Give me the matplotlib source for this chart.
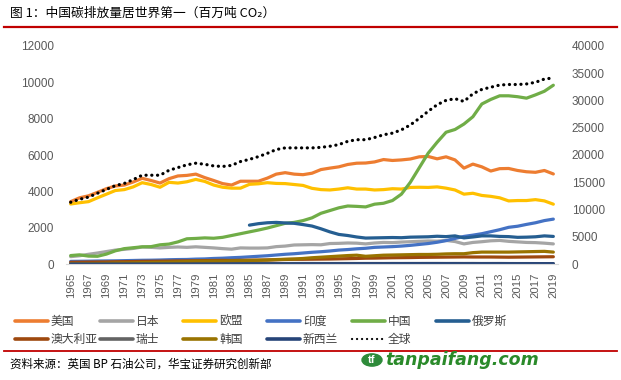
import matplotlib
matplotlib.use("Agg")
import matplotlib.pyplot as plt
from matplotlib.lines import Line2D
from matplotlib.patches import Circle

plt.rcParams['font.family'] = ['Liberation Sans', 'Noto Sans CJK SC', 'DejaVu Sans']

years = list(range(1965, 2020))

us = [3440, 3650, 3760, 3950, 4150, 4300, 4350, 4520, 4720, 4600, 4460, 4700, 4850, 4880, 4950,
      4760, 4600, 4430, 4350, 4560, 4560, 4560, 4730, 4950, 5030, 4950, 4920, 5000, 5200, 5280,
      5350, 5480, 5550, 5560, 5620, 5750, 5700, 5730, 5780, 5900, 5920, 5790, 5900, 5730, 5280,
      5500, 5350, 5120, 5250, 5260, 5150, 5080, 5050, 5150, 4960]
japan = [420, 470, 550, 620, 700, 780, 820, 870, 950, 930, 900, 930, 950, 930, 960,
         930, 900, 860, 830, 900, 890, 890, 900, 970, 1000, 1060, 1070, 1080, 1070, 1140,
         1150, 1170, 1160, 1120, 1170, 1200, 1190, 1220, 1240, 1260, 1280, 1270, 1310, 1250, 1120,
         1200, 1240, 1290, 1310, 1260, 1230, 1200, 1190, 1160, 1120]
eu = [3310, 3380, 3440, 3650, 3850, 4050, 4100, 4250, 4480, 4380, 4230, 4500, 4460, 4530, 4660,
      4550, 4350, 4230, 4180, 4180, 4390, 4420, 4480, 4440, 4430, 4380, 4330, 4170, 4100, 4080,
      4130, 4200, 4130, 4130, 4080, 4100, 4150, 4130, 4220, 4230, 4220, 4250, 4180, 4080, 3850,
      3900, 3780, 3730, 3650, 3480, 3500, 3500, 3550, 3480, 3300]
india = [160, 165, 170, 180, 185, 190, 200, 210, 220, 225, 235, 250, 260, 265, 285,
         295, 320, 335, 360, 380, 410, 440, 470, 510, 550, 580, 620, 660, 690, 730,
         780, 810, 850, 880, 930, 950, 970, 1000, 1040, 1090, 1140, 1210, 1300, 1420, 1530,
         1600, 1680, 1790, 1900, 2030, 2090, 2190, 2280, 2400, 2480]
china = [480, 520, 450, 440, 560, 740, 860, 910, 960, 970, 1070, 1110, 1230, 1400, 1420,
         1450, 1430, 1480, 1580, 1680, 1780, 1880, 1990, 2120, 2250, 2300, 2400, 2550, 2800, 2950,
         3100, 3200, 3180, 3150, 3300, 3350, 3500, 3850, 4500, 5300, 6100, 6700, 7250, 7400, 7700,
         8100, 8800, 9050, 9250, 9250, 9200, 9120, 9300, 9500, 9830]
russia = [None] * 20 + [2150, 2230, 2280, 2300, 2270, 2250, 2180, 2100, 1950, 1780,
                        1640, 1580, 1500, 1440, 1450, 1460, 1470, 1460, 1490, 1500,
                        1510, 1540, 1520, 1560, 1450, 1500, 1560, 1560, 1530, 1520,
                        1480, 1490, 1510, 1560, 1530]
australia = [110, 115, 120, 125, 130, 140, 145, 150, 160, 165, 170, 175, 185, 190, 195,
             205, 210, 215, 210, 220, 225, 230, 240, 250, 265, 275, 275, 280, 285, 290,
             300, 310, 320, 335, 340, 350, 360, 365, 370, 380, 385, 390, 395, 400, 405,
             400, 400, 400, 395, 390, 395, 400, 405, 410, 415]
switzerland = [32, 34, 36, 38, 40, 42, 43, 44, 45, 42, 41, 42, 42, 43, 42,
               41, 40, 39, 41, 42, 42, 44, 44, 43, 43, 44, 45, 45, 43, 42,
               43, 44, 43, 44, 44, 43, 45, 44, 45, 45, 46, 46, 44, 45, 44,
               45, 42, 43, 44, 41, 40, 40, 39, 38, 38]
korea = [20, 25, 35, 45, 55, 70, 75, 80, 95, 100, 110, 120, 135, 150, 170,
         170, 175, 175, 190, 200, 210, 220, 230, 260, 275, 290, 320, 360, 390, 420,
         450, 480, 500, 440, 470, 500, 510, 520, 530, 540, 540, 550, 570, 580, 580,
         640, 670, 670, 670, 670, 680, 690, 700, 710, 670]
newzealand = [10, 11, 11, 12, 12, 13, 13, 14, 15, 15, 16, 16, 17, 18, 18,
              18, 18, 19, 20, 21, 22, 22, 23, 24, 24, 25, 26, 26, 26, 27,
              27, 28, 30, 30, 31, 32, 33, 34, 35, 35, 35, 35, 34, 34, 32,
              32, 32, 33, 33, 32, 32, 33, 34, 34, 34]
world = [11350, 11900, 12300, 13000, 13700, 14400, 14800, 15500, 16300, 16300, 16300, 17200, 17700, 18200, 18500,
         18300, 18000, 17900, 18100, 18800, 19200, 19700, 20300, 21000, 21300, 21300, 21300, 21300, 21400, 21600,
         21900, 22500, 22800, 22800, 23200, 23700, 24000, 24600, 25500, 26700, 28000, 29200, 30000, 30300, 29800,
         31200, 32000, 32400, 32800, 32900, 32900, 33000, 33300, 33900, 34100]

series = [
    ("美国", us, "#ED7D31"),
    ("日本", japan, "#A5A5A5"),
    ("欧盟", eu, "#FFC000"),
    ("印度", india, "#4472C4"),
    ("中国", china, "#70AD47"),
    ("俄罗斯", russia, "#255E91"),
    ("澳大利亚", australia, "#9E480E"),
    ("瑞士", switzerland, "#636363"),
    ("韩国", korea, "#997300"),
    ("新西兰", newzealand, "#264478"),
]
world_label = "全球"

left_ticks = [0, 2000, 4000, 6000, 8000, 10000, 12000]
right_ticks = [0, 5000, 10000, 15000, 20000, 25000, 30000, 35000, 40000]
xtick_years = years[::2]

W, H = 621, 380
fig = plt.figure(figsize=(W / 100, H / 100), dpi=100)
ax = fig.add_axes([66.2 / W, 1 - 264.3 / H, (557.8 - 66.2) / W, (264.3 - 45.7) / H])
ax2 = ax.twinx()

lw = 2.3
for name, vals, col in series:
    xs = [y for y, v in zip(years, vals) if v is not None]
    vs = [v for v in vals if v is not None]
    ax.plot(xs, vs, color=col, lw=lw, solid_capstyle='round', solid_joinstyle='round')

ax2.plot(years, world, color='black', lw=2.3, linestyle=(0, (0.05, 1.75)), dash_capstyle='round')

ax.set_xlim(1964.5, 2019.5)
ax.set_ylim(0, 12000)
ax2.set_ylim(0, 40000)
ax.set_yticks(left_ticks)
ax.set_yticklabels([str(t) for t in left_ticks])
ax2.set_yticks(right_ticks)
ax2.set_yticklabels([str(t) for t in right_ticks])
ax.set_xticks(xtick_years)
ax.set_xticklabels([str(y) for y in xtick_years], rotation=90)

tc = "#595959"
for a in (ax, ax2):
    for s in a.spines.values():
        s.set_visible(False)
    a.tick_params(length=0, colors=tc, labelsize=8.5)
ax.spines['bottom'].set_visible(True)
ax.spines['bottom'].set_color('#D9D9D9')
ax.tick_params(axis='y', pad=9)
ax.tick_params(axis='x', pad=6, labelsize=8.2)
ax2.tick_params(axis='y', pad=10)

# Title & rules
fig.text(10 / W, 1 - 13 / H, "图 1：中国碳排放量居世界第一（百万吨 CO₂）",
         family=['Noto Sans CJK SC', 'DejaVu Sans'], fontsize=9.2, va='center', ha='left', color='black')
fig.add_artist(Line2D([4 / W, 617 / W], [1 - 27 / H, 1 - 27 / H], color='#C00000', lw=1.6))
fig.add_artist(Line2D([4 / W, 617 / W], [1 - 350.5 / H, 1 - 350.5 / H], color='#C00000', lw=1.3))

# Manual legend
cols_x = [15, 100, 183, 267, 352, 436]
rows_y = [321, 339]
items = [(n, c, '-') for n, _, c in series[:6]] + [(n, c, '-') for n, _, c in series[6:]] + [(world_label, 'black', 'dot')]
for i, (name, col, st) in enumerate(items):
    r, cidx = divmod(i, 6)
    x0 = cols_x[cidx]
    y0 = 1 - rows_y[r] / H
    if st == 'dot':
        fig.add_artist(Line2D([x0 / W, (x0 + 33) / W], [y0, y0], color=col, lw=1.6,
                              linestyle=(0, (0.05, 2.2)), dash_capstyle='round'))
    else:
        fig.add_artist(Line2D([x0 / W, (x0 + 33) / W], [y0, y0], color=col, lw=2.6,
                              solid_capstyle='round'))
    fig.text((x0 + 36) / W, y0, name, family=['Noto Sans CJK SC', 'DejaVu Sans'],
             fontsize=8.5, va='center', ha='left', color='#404040')

fig.text(10 / W, 1 - 364 / H, "资料来源：英国 BP 石油公司，华宝证券研究创新部",
         family=['Noto Sans CJK SC', 'DejaVu Sans'], fontsize=8.3, va='center', ha='left', color='black')

# watermark
fig.add_artist(Circle((372 / W, 1 - 360 / H), 10 / W, transform=fig.transFigure,
                      color='#2E8B3A'))
fig.text(372 / W, 1 - 360 / H, "tf", fontsize=8, color='white', weight='bold',
         ha='center', va='center')
fig.text(385 / W, 1 - 360 / H, "tanpaifang.com", fontsize=12.5, color='#2A8A2A',
         weight='bold', style='italic', ha='left', va='center', family='DejaVu Sans')

fig.savefig("out.png", dpi=100)
